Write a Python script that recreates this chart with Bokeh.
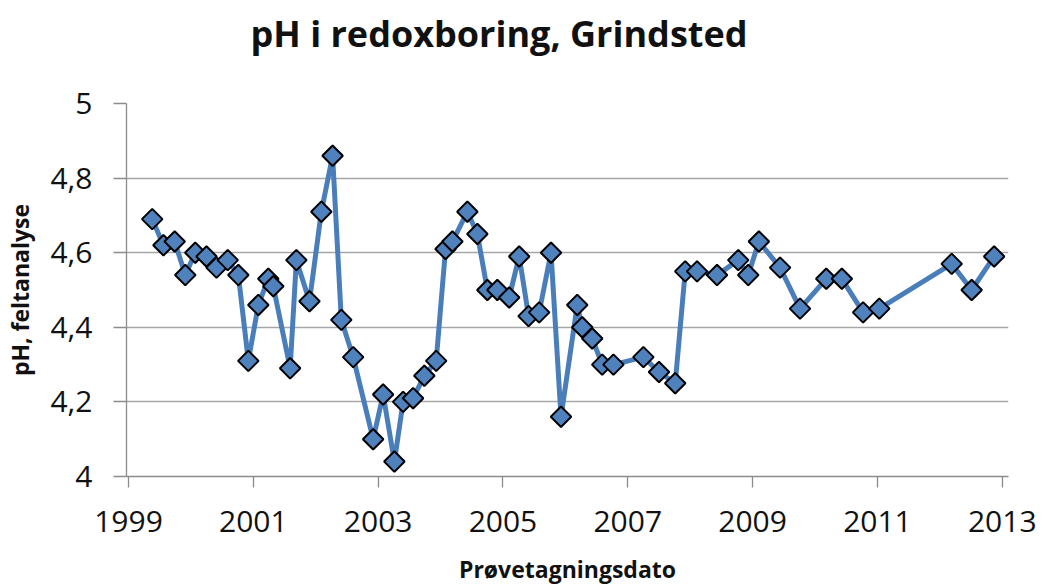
import math
from bokeh.plotting import figure
from bokeh.models import FixedTicker, Range1d, Title, LinearAxis
from bokeh.embed import file_html
from bokeh.resources import INLINE

# ---- data ----
sample_year = [
    1999.38, 1999.56, 1999.74, 1999.91, 2000.07, 2000.25, 2000.41, 2000.59, 2000.76, 2000.92,
    2001.08, 2001.24, 2001.32, 2001.59, 2001.69, 2001.90, 2002.09, 2002.27, 2002.41, 2002.60,
    2002.92, 2003.08, 2003.26, 2003.40, 2003.56, 2003.74, 2003.93, 2004.08, 2004.19, 2004.43,
    2004.59, 2004.75, 2004.91, 2005.10, 2005.26, 2005.41, 2005.58, 2005.77, 2005.93, 2006.19,
    2006.27, 2006.43, 2006.59, 2006.77, 2007.25, 2007.50, 2007.76, 2007.92, 2008.11, 2008.43,
    2008.77, 2008.93, 2009.10, 2009.44, 2009.76, 2010.18, 2010.43, 2010.77, 2011.03, 2012.19,
    2012.51, 2012.87,
]
ph_field = [
    4.69, 4.62, 4.63, 4.54, 4.60, 4.59, 4.56, 4.58, 4.54, 4.31,
    4.46, 4.53, 4.51, 4.29, 4.58, 4.47, 4.71, 4.86, 4.42, 4.32,
    4.10, 4.22, 4.04, 4.20, 4.21, 4.27, 4.31, 4.61, 4.63, 4.71,
    4.65, 4.50, 4.50, 4.48, 4.59, 4.43, 4.44, 4.60, 4.16, 4.46,
    4.40, 4.37, 4.30, 4.30, 4.32, 4.28, 4.25, 4.55, 4.55, 4.54,
    4.58, 4.54, 4.63, 4.56, 4.45, 4.53, 4.53, 4.44, 4.45, 4.57,
    4.50, 4.59,
]
x_ticks = [1999, 2001, 2003, 2005, 2007, 2009, 2011, 2013]
x_tick_labels = ["1999", "2001", "2003", "2005", "2007", "2009", "2011", "2013"]
y_ticks = [4.0, 4.2, 4.4, 4.6, 4.8, 5.0]
y_tick_labels = ["4", "4,2", "4,4", "4,6", "4,8", "5"]

title_text = "pH i redoxboring, Grindsted"
x_label = "Prøvetagningsdato"
y_label = "pH, feltanalyse"

FONT = "Open Sans"
GRID = "#a6a6a6"
AXIS = "#8c8c8c"

p = figure(
    width=1043, height=587,
    output_backend="svg", toolbar_location=None,
    x_range=Range1d(1998.968, 2013.10), y_range=Range1d(4.0, 5.0),
    min_border_left=126, min_border_right=35, min_border_top=103, min_border_bottom=111,
)
p.outline_line_color = None
p.background_fill_color = "white"
p.border_fill_color = "white"

# axes
p.xaxis.ticker = FixedTicker(ticks=x_ticks)
p.xaxis.major_label_overrides = {t: s for t, s in zip(x_ticks, x_tick_labels)}
p.yaxis.ticker = FixedTicker(ticks=y_ticks)
p.yaxis.major_label_overrides = {t: s for t, s in zip(y_ticks, y_tick_labels)}

for ax in (p.xaxis[0], p.yaxis[0]):
    ax.axis_line_color = AXIS
    ax.axis_line_width = 1.3
    ax.major_tick_line_color = AXIS
    ax.major_tick_line_width = 1.3
    ax.major_tick_in = 0
    ax.minor_tick_line_color = None
    ax.major_label_text_font = FONT
    ax.major_label_text_font_size = "30px"
    ax.major_label_text_color = "#111111"
    ax.axis_label_text_font = FONT
    ax.axis_label_text_font_style = "bold"
    ax.axis_label_text_font_size = "23px"
    ax.axis_label_text_color = "#111111"

p.xaxis.major_tick_out = 11
p.xaxis.major_label_standoff = 23
p.xaxis.axis_label = x_label
p.xaxis.axis_label_standoff = 18

p.yaxis.major_tick_out = 13
p.yaxis.major_label_standoff = 21
p.yaxis.axis_label = y_label
p.yaxis.axis_label_standoff = 11

p.xgrid.visible = False
p.ygrid.grid_line_color = GRID
p.ygrid.grid_line_width = 1.3

# series
p.line(sample_year, ph_field, line_color="#4a7ebb", line_width=5)
p.scatter(sample_year, ph_field, marker="square", angle=math.pi / 4, size=14.5,
          fill_color="#4f81bd", line_color="black", line_width=2)

# spacer between the frame and the title: an invisible axis with one blank tick
spacer = LinearAxis(ticker=FixedTicker(ticks=[2006]), axis_line_color=None,
                    major_tick_line_color="white", major_tick_line_alpha=0.0,
                    minor_tick_line_color=None,
                    major_label_overrides={2006: ""}, major_label_standoff=0,
                    major_label_text_font_size="1px",
                    major_tick_in=0, major_tick_out=41, minor_tick_in=0, minor_tick_out=0)
p.add_layout(spacer, "above")

title = Title(text=title_text, align="left", offset=124, vertical_align="bottom", standoff=10,
              text_font=FONT, text_font_style="bold", text_font_size="36px",
              text_color="#111111")
p.add_layout(title, "above")

open("out.html", "w").write(file_html(p, INLINE))
